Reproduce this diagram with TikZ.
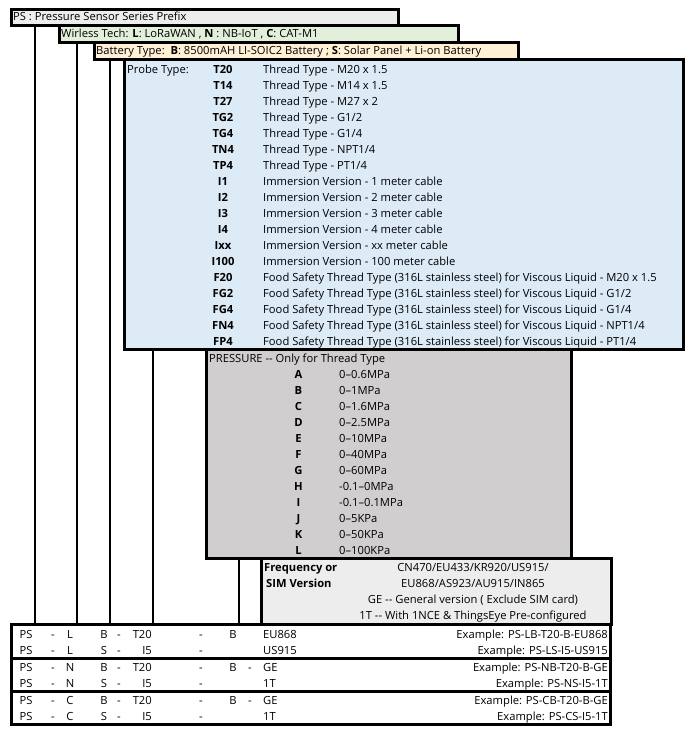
\documentclass[tikz,border=0pt]{standalone}
\usepackage{fontspec}
\setmainfont{Open Sans}
\usepackage{tikz}
\usetikzlibrary{positioning, calc}
\definecolor{PrefixGray}{HTML}{EDEDED}
\definecolor{TechGreen}{HTML}{E2EFDA}
\definecolor{BattPeach}{HTML}{FFF0D6}
\definecolor{ProbeBlue}{HTML}{DDEBF7}
\definecolor{RangeGray}{HTML}{D0CECE}
\definecolor{FreqGray}{HTML}{EDEDED}

\begin{document}
\begin{tikzpicture}[x=1pt, y=-1pt,
    box/.style={draw, line width=2.6pt, anchor=north west, inner sep=0pt},
    txt/.style={anchor=west, inner sep=0pt, text height=8pt, text depth=0pt, font=\fontsize{11.2}{12}\selectfont},
    code/.style={txt, anchor=center, font=\fontsize{11.2}{12}\selectfont\bfseries},
    stem/.style={line width=1.1pt}]
    \useasboundingbox (0,0) rectangle (691,731);

    % Series prefix
    \node[box, fill=PrefixGray, minimum width=387, minimum height=16] (boxPS) at (10,8) {};
    \node[txt] (txtPS) at (13,16.5) {PS : Pressure Sensor Series Prefix};

    % Wireless tech
    \node[box, fill=TechGreen, minimum width=399, minimum height=17] (boxWT) at (58,24) {};
    \node[txt] (txtWT) at (61,33) {Wirless Tech: \textbf{L}: LoRaWAN , \textbf{N} : NB-IoT , \textbf{C}: CAT-M1};

    % Battery type
    \node[box, fill=BattPeach, minimum width=424, minimum height=17] (boxBT) at (93,41) {};
    \node[txt] (txtBT) at (96,50) {Battery Type:\ \ \textbf{B}: 8500mAH LI-SOIC2 Battery ; \textbf{S}: Solar Panel + Li-on Battery};

    % Probe type
    \begin{scope}[shift={(123,58)}]
        \node[box, fill=ProbeBlue, minimum width=559, minimum height=290] (boxProbe) at (0,0) {};
        \node[txt] (txtProbe) at (4,11) {Probe Type:};
        \foreach \pc/\pdsc [count=\i from 0] in {
            T20/{Thread Type - M20 x 1.5},
            T14/{Thread Type - M14 x 1.5},
            T27/{Thread Type - M27 x 2},
            TG2/{Thread Type - G1/2},
            TG4/{Thread Type - G1/4},
            TN4/{Thread Type - NPT1/4},
            TP4/{Thread Type - PT1/4},
            I1/{Immersion Version - 1 meter cable},
            I2/{Immersion Version - 2 meter cable},
            I3/{Immersion Version - 3 meter cable},
            I4/{Immersion Version - 4 meter cable},
            Ixx/{Immersion Version - xx meter cable},
            I100/{Immersion Version - 100 meter cable},
            F20/{Food Safety Thread Type (316L stainless steel) for Viscous Liquid - M20 x 1.5},
            FG2/{Food Safety Thread Type (316L stainless steel) for Viscous Liquid - G1/2},
            FG4/{Food Safety Thread Type (316L stainless steel) for Viscous Liquid - G1/4},
            FN4/{Food Safety Thread Type (316L stainless steel) for Viscous Liquid - NPT1/4},
            FP4/{Food Safety Thread Type (316L stainless steel) for Viscous Liquid - PT1/4}}
        {
            \node[code] (probeCode\i) at (100,11+16*\i) {\pc};
            \node[txt] (probeDesc\i) at (140,11+16*\i) {\pdsc};
        }
    \end{scope}

    % Pressure range
    \begin{scope}[shift={(205,348)}]
        \node[box, fill=RangeGray, minimum width=365, minimum height=209] (boxPr) at (0,0) {};
        \node[txt] (txtPr) at (4,10) {PRESSURE -{}- Only for Thread Type};
        \foreach \rc/\rv [count=\i from 0] in {
            A/{0--0.6MPa}, B/{0--1MPa}, C/{0--1.6MPa}, D/{0--2.5MPa},
            E/{0--10MPa}, F/{0--40MPa}, G/{0--60MPa}, H/{-0.1--0MPa},
            I/{-0.1--0.1MPa}, J/{0--5KPa}, K/{0--50KPa}, L/{0--100KPa}}
        {
            \node[code] (rangeCode\i) at (93.5,26+16*\i) {\rc};
            \node[txt] (rangeVal\i) at (134,26+16*\i) {\rv};
        }
    \end{scope}

    % Frequency / SIM version
    \begin{scope}[shift={(260,557)}]
        \node[box, fill=FreqGray, minimum width=350, minimum height=66] (boxFq) at (0,0) {};
        \node[txt, font=\fontsize{11.2}{12}\selectfont\bfseries] (txtFq1) at (4,10) {Frequency or};
        \node[txt, font=\fontsize{11.2}{12}\selectfont\bfseries] (txtFq2) at (6,26) {SIM Version};
        \node[txt, anchor=center] (fqLine1) at (213,10) {CN470/EU433/KR920/US915/};
        \node[txt, anchor=center] (fqLine2) at (213,26) {EU868/AS923/AU915/IN865};
        \node[txt, anchor=center] (fqLine3) at (213,42) {GE -{}- General version ( Exclude SIM card)};
        \node[txt, anchor=center] (fqLine4) at (213,58) {1T -{}- With 1NCE \& ThingsEye Pre-configured};
    \end{scope}

    % Example table
    \node[box, minimum width=599, minimum height=34] (grpL) at (10,623) {};
    \node[box, minimum width=599, minimum height=33] (grpN) at (10,657) {};
    \node[box, minimum width=599, minimum height=33] (grpC) at (10,690) {};

    % Stems down to the table
    \coordinate (colPS) at (35,0);
    \coordinate (colWT) at (77,0);
    \coordinate (colBT) at (110,0);
    \coordinate (colProbe) at (153,0);
    \coordinate (colPr) at (239,0);
    \draw[stem] (colPS |- boxPS.south) -- (colPS |- grpL.north);
    \draw[stem] (colWT |- boxWT.south) -- (colWT |- grpL.north);
    \draw[stem] (colBT |- boxBT.south) -- (colBT |- grpL.north);
    \draw[stem] (colProbe |- boxProbe.south) -- (colProbe |- grpL.north);
    \draw[stem] (colPr |- boxPr.south) -- (colPr |- grpL.north);

    \foreach \ry/\wt/\bt/\pb/\pd/\fd/\fq/\ex [count=\r] in {
        634/L/B/T20/B/{}/EU868/PS-LB-T20-B-EU868,
        650/L/S/I5/{}/{}/US915/PS-LS-I5-US915,
        667/N/B/T20/B/-/GE/PS-NB-T20-B-GE,
        683/N/S/I5/{}/{}/1T/PS-NS-I5-1T,
        700/C/B/T20/B/-/GE/PS-CB-T20-B-GE,
        716/C/S/I5/{}/{}/1T/PS-CS-I5-1T}
    {
        \node[txt, anchor=center] (rowPS\r) at (26,\ry) {PS};
        \node[txt, anchor=center] (rowDa\r) at (53,\ry) {-};
        \node[txt, anchor=center] (rowWT\r) at (70,\ry) {\wt};
        \node[txt, anchor=center] (rowBT\r) at (104,\ry) {\bt};
        \node[txt, anchor=center] (rowDb\r) at (119,\ry) {-};
        \node[txt, anchor=east] (rowPb\r) at (152,\ry) {\pb};
        \node[txt, anchor=center] (rowDc\r) at (201,\ry) {-};
        \node[txt, anchor=center] (rowPd\r) at (233,\ry) {\pd};
        \node[txt, anchor=center] (rowDd\r) at (250,\ry) {\fd};
        \node[txt] (rowFq\r) at (263,\ry) {\fq};
        \node[txt, anchor=east] (rowEx\r) at (608,\ry) {Example: \ex};
    }
\end{tikzpicture}
\end{document}
